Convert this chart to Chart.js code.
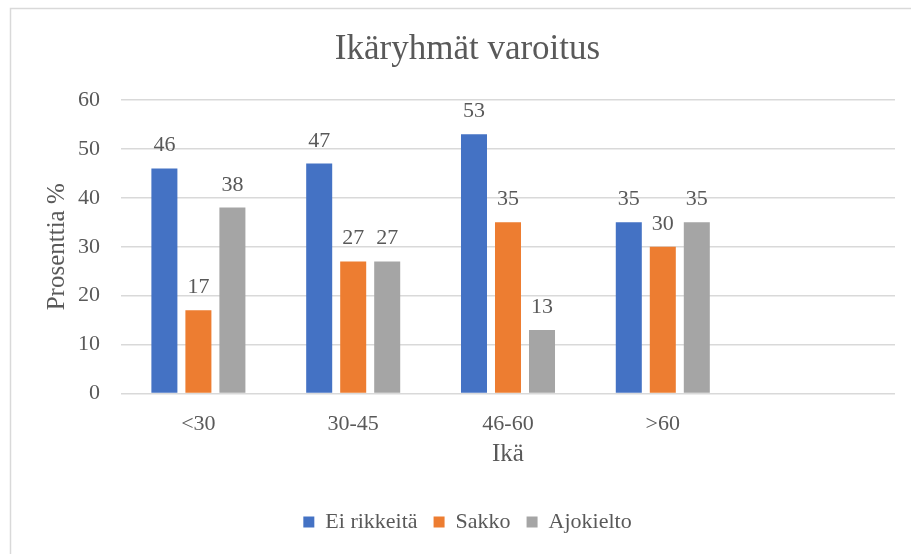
<!DOCTYPE html>
<html>
<head>
<meta charset="utf-8">
<title>Ikäryhmät varoitus</title>
<script src="https://cdn.jsdelivr.net/npm/chart.js@4.4.1/dist/chart.umd.min.js"></script>
<style>
  html, body { margin: 0; padding: 0; background: #fff; }
  #wrap { position: relative; width: 911px; height: 554px; }
</style>
</head>
<body>
<div id="wrap"><canvas id="chart" width="911" height="554"></canvas></div>
<script>
// values
const ageGroups = ['<30', '30-45', '46-60', '>60', ''];
const eiRikkeita = [46, 47, 53, 35];
const sakko = [17, 27, 35, 30];
const ajokielto = [38, 27, 13, 35];
const yTicks = [0, 10, 20, 30, 40, 50, 60];

const FONT = "'Liberation Serif', 'Times New Roman', serif";
const TEXT = '#595959';
const GRID = '#d9d9d9';

// partial frame (the reference is cropped: only top and left edges show)
const framePlugin = {
  id: 'frame',
  beforeDraw(chart) {
    const ctx = chart.ctx;
    ctx.save();
    ctx.strokeStyle = GRID;
    ctx.lineWidth = 1.5;
    ctx.beginPath();
    ctx.moveTo(10.5, chart.height);
    ctx.lineTo(10.5, 8.5);
    ctx.lineTo(chart.width, 8.5);
    ctx.stroke();
    ctx.restore();
  }
};

// value labels above each bar
const valueLabels = {
  id: 'valueLabels',
  afterDatasetsDraw(chart) {
    const ctx = chart.ctx;
    ctx.save();
    ctx.font = '22px ' + FONT;
    ctx.fillStyle = TEXT;
    ctx.textAlign = 'center';
    ctx.textBaseline = 'alphabetic';
    chart.data.datasets.forEach((ds, i) => {
      const meta = chart.getDatasetMeta(i);
      meta.data.forEach((bar, j) => {
        const v = ds.data[j];
        if (v === null || v === undefined) return;
        ctx.fillText(String(v), bar.x, bar.y - 17);
      });
    });
    ctx.restore();
  }
};

const barStyle = { categoryPercentage: 0.659, barPercentage: 0.765, borderWidth: 0 };

new Chart(document.getElementById('chart'), {
  type: 'bar',
  data: {
    labels: ageGroups,
    datasets: [
      { label: 'Ei rikkeitä', data: eiRikkeita, backgroundColor: '#4472C4', ...barStyle },
      { label: 'Sakko', data: sakko, backgroundColor: '#ED7D31', ...barStyle },
      { label: 'Ajokielto', data: ajokielto, backgroundColor: '#A5A5A5', ...barStyle },
    ]
  },
  options: {
    responsive: false,
    animation: false,
    layout: { padding: { left: 40, right: 16, top: 0, bottom: 11 } },
    plugins: {
      title: {
        display: true,
        text: 'Ikäryhmät varoitus',
        color: TEXT,
        font: { family: FONT, size: 35, weight: 'normal' },
        padding: { top: 29, bottom: 29 }
      },
      legend: {
        position: 'bottom',
        labels: {
          color: TEXT,
          font: { family: FONT, size: 22 },
          boxWidth: 11,
          boxHeight: 11,
          padding: 16
        }
      },
      tooltip: { enabled: false }
    },
    scales: {
      x: {
        grid: { display: false, drawTicks: false },
        border: { display: false },
        ticks: { color: TEXT, font: { family: FONT, size: 22 }, padding: 18 },
        title: {
          display: true,
          text: 'Ikä',
          color: TEXT,
          font: { family: FONT, size: 25 },
          padding: { top: 0, bottom: 26 }
        },
        afterFit(scale) { scale.height = 101.5; }
      },
      y: {
        min: 0,
        max: 60,
        afterBuildTicks(scale) { scale.ticks = yTicks.map(v => ({ value: v })); },
        grid: { color: GRID, lineWidth: 1.5, drawTicks: false },
        border: { display: false },
        ticks: { color: TEXT, font: { family: FONT, size: 22 }, padding: 21 },
        title: {
          display: true,
          text: 'Prosenttia %',
          color: TEXT,
          font: { family: FONT, size: 25 },
          padding: { top: 2, bottom: 0 }
        },
        afterFit(scale) { scale.width = 81; }
      }
    }
  },
  plugins: [framePlugin, valueLabels]
});
</script>
</body>
</html>
